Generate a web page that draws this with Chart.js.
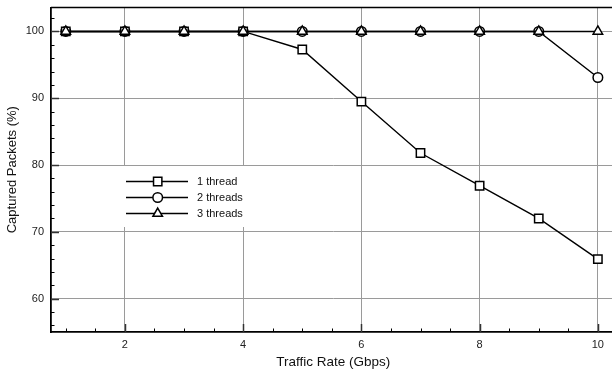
<!DOCTYPE html>
<html>
<head>
<meta charset="utf-8">
<script src="https://cdn.jsdelivr.net/npm/chart.js@4.4.1/dist/chart.umd.min.js"></script>
<style>
  html, body { margin: 0; padding: 0; background: #fff; overflow: hidden; width: 612px; height: 370px; }
  #wrap { width: 612px; height: 370px; overflow: hidden; position: relative; }
  #c { position: absolute; left: 0; top: 0; }
</style>
</head>
<body>
<div id="wrap"><canvas id="c" width="623" height="370"></canvas></div>
<script>
// Packet capture rate versus offered traffic, per capture-thread count
const rates = [1, 2, 3, 4, 5, 6, 7, 8, 9, 10];
const oneThread = [100, 100, 100, 100, 97.3, 89.5, 81.8, 76.9, 72.0, 65.9];
const twoThreads = [100, 100, 100, 100, 100, 100, 100, 100, 100, 93.1];
const threeThreads = [100, 100, 100, 100, 100, 100, 100, 100, 100, 100];

const seriesNames = ['1 thread', '2 threads', '3 threads'];
const xTicks = [2, 4, 6, 8, 10];
const yTicks = [60, 70, 80, 90, 100];
const xMinorStep = 0.5;
const yMinorStep = 2;

const FONT = '"Liberation Sans", Arial, Helvetica, sans-serif';

function pts(values) {
  return rates.map((r, i) => ({ x: r, y: values[i] }));
}

const common = {
  borderColor: '#000',
  backgroundColor: '#fff',
  pointBackgroundColor: '#fff',
  pointBorderColor: '#000',
  pointBorderWidth: 1.5,
  borderWidth: 1.4,
  tension: 0,
  fill: false
};

const datasets = [
  Object.assign({}, common, { label: seriesNames[0], data: pts(oneThread), pointStyle: 'rect', pointRadius: 5.9, order: 1 }),
  Object.assign({}, common, { label: seriesNames[1], data: pts(twoThreads), pointStyle: 'circle', pointRadius: 4.8, order: 2 }),
  Object.assign({}, common, { label: seriesNames[2], data: pts(threeThreads), pointStyle: 'triangle', pointRadius: 5.5, order: 0 })
];

// Inward tick marks, top frame line
const frameTicks = {
  id: 'frameTicks',
  beforeDatasetsDraw(chart) {
    const { ctx, chartArea: a, scales: { x, y } } = chart;
    ctx.save();
    ctx.strokeStyle = '#000';
    ctx.lineWidth = 1;
    // minor x ticks
    for (let v = 1; v <= 10.0001; v += xMinorStep) {
      const px = Math.round(x.getPixelForValue(v)) + 0.5;
      ctx.beginPath(); ctx.moveTo(px, a.bottom); ctx.lineTo(px, a.bottom - 3.5); ctx.stroke();
    }
    // minor y ticks
    for (let v = 56; v <= 102.0001; v += yMinorStep) {
      const py = Math.round(y.getPixelForValue(v)) + 0.5;
      ctx.beginPath(); ctx.moveTo(a.left, py); ctx.lineTo(a.left + 3.5, py); ctx.stroke();
    }
    // major stubs
    ctx.strokeStyle = '#333';
    ctx.lineWidth = 1.5;
    xTicks.forEach(v => {
      const px = Math.round(x.getPixelForValue(v)) + 0.5;
      ctx.beginPath(); ctx.moveTo(px, a.bottom); ctx.lineTo(px, a.bottom - 8); ctx.stroke();
    });
    yTicks.forEach(v => {
      const py = Math.round(y.getPixelForValue(v)) + 0.5;
      ctx.beginPath(); ctx.moveTo(a.left, py); ctx.lineTo(a.left + 8, py); ctx.stroke();
    });
    // top frame
    ctx.strokeStyle = '#000';
    ctx.lineWidth = 1.5;
    ctx.beginPath(); ctx.moveTo(a.left, a.top); ctx.lineTo(a.right, a.top); ctx.stroke();
    ctx.restore();
  }
};

// Legend box inside the plot
const innerLegend = {
  id: 'innerLegend',
  afterDatasetsDraw(chart) {
    const { ctx } = chart;
    ctx.save();
    ctx.fillStyle = '#fff';
    ctx.fillRect(117, 166, 135, 61);
    const rows = [181, 197, 213];
    chart.data.datasets.forEach((ds, i) => {
      const yy = rows[i] + 0.5;
      ctx.strokeStyle = '#000';
      ctx.lineWidth = ds.borderWidth;
      ctx.beginPath(); ctx.moveTo(126, yy); ctx.lineTo(188, yy); ctx.stroke();
      ctx.fillStyle = '#fff';
      ctx.strokeStyle = '#000';
      ctx.lineWidth = ds.pointBorderWidth;
      Chart.helpers.drawPoint(ctx, {
        pointStyle: ds.pointStyle, radius: ds.pointRadius, rotation: 0, borderWidth: ds.pointBorderWidth
      }, 157.7, yy);
      ctx.fillStyle = '#111';
      ctx.font = '11px ' + FONT;
      ctx.textAlign = 'left';
      ctx.textBaseline = 'middle';
      ctx.fillText(ds.label, 197, yy);
    });
    ctx.restore();
  }
};

new Chart(document.getElementById('c'), {
  type: 'line',
  data: { datasets },
  plugins: [frameTicks, innerLegend],
  options: {
    responsive: false,
    animation: false,
    layout: { padding: { top: 6, right: 1, left: 0, bottom: 0 } },
    plugins: { legend: { display: false }, tooltip: { enabled: false } },
    scales: {
      x: {
        type: 'linear',
        min: 0.75,
        max: 10.3,
        afterBuildTicks(s) { s.ticks = xTicks.map(v => ({ value: v })); },
        afterFit(s) { s.height = 38; s.paddingLeft = 0; s.paddingRight = 0; },
        grid: { color: '#9a9a9a', lineWidth: 1, drawTicks: false },
        border: { display: true, color: '#000', width: 1.8 },
        ticks: { color: '#222', font: { family: FONT, size: 11 }, padding: 6, maxRotation: 0 },
        title: { display: true, text: 'Traffic Rate (Gbps)', color: '#111', font: { family: FONT, size: 13.5 }, padding: { top: 0, bottom: 0 } }
      },
      y: {
        min: 55,
        max: 103.6,
        afterBuildTicks(s) { s.ticks = yTicks.map(v => ({ value: v })); },
        afterFit(s) { s.width = 51; s.paddingTop = 0; s.paddingBottom = 0; },
        grid: { color: '#9a9a9a', lineWidth: 1, drawTicks: false },
        border: { display: true, color: '#000', width: 1.8 },
        ticks: { color: '#222', font: { family: FONT, size: 11 }, padding: 7 },
        title: { display: true, text: 'Captured Packets (%)', color: '#111', font: { family: FONT, size: 13 }, padding: { top: 5, bottom: 0 } }
      }
    }
  }
});
</script>
</body>
</html>
